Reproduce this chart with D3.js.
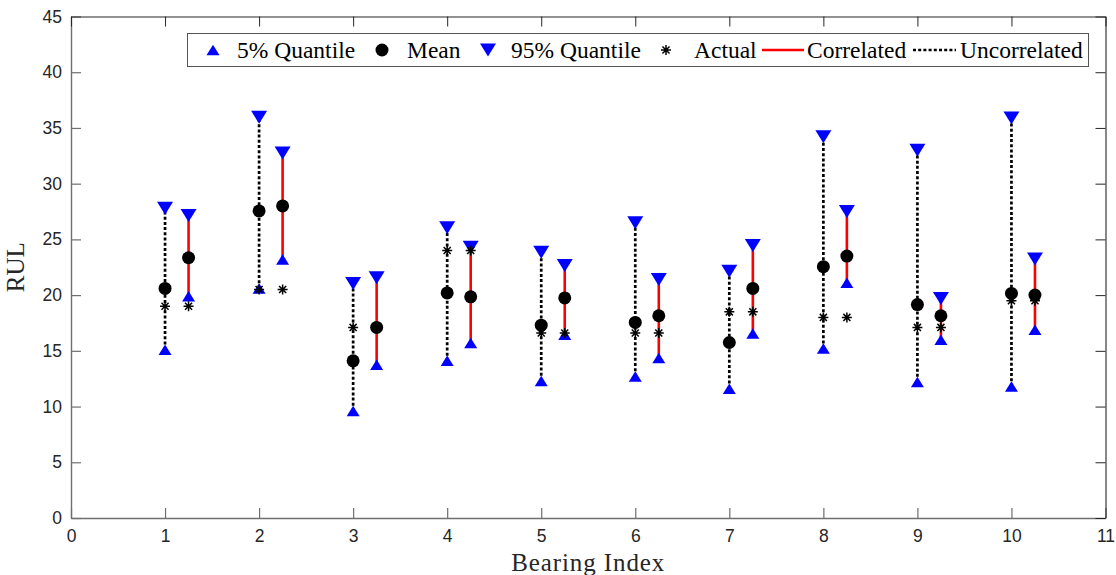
<!DOCTYPE html>
<html>
<head>
<meta charset="utf-8">
<script src="https://cdn.jsdelivr.net/npm/d3@7/dist/d3.min.js"></script>
<style>
  html, body { margin: 0; padding: 0; background: #fff; }
  svg { display: block; }
</style>
</head>
<body>
<svg id="chart" width="1116" height="575"></svg>
<script>
// Bearing indices and RUL predictions
const bearings = [1, 2, 3, 4, 5, 6, 7, 8, 9, 10];
const actualRUL = [19.0, 20.5, 17.1, 24.0, 16.6, 16.6, 18.5, 18.0, 17.1, 19.5];

// Uncorrelated model
const uncQ05  = [15.1, 20.6, 9.6, 14.1, 12.3, 12.7, 11.6, 15.2, 12.2, 11.8];
const uncMean = [20.6, 27.55, 14.1, 20.2, 17.3, 17.55, 15.75, 22.55, 19.15, 20.15];
const uncQ95  = [27.8, 35.95, 21.05, 26.05, 23.85, 26.5, 22.15, 34.2, 33.0, 35.9];

// Correlated model
const corQ05  = [19.9, 23.2, 13.75, 15.7, 16.45, 14.35, 16.55, 21.1, 16.0, 16.9];
const corMean = [23.35, 28.0, 17.1, 19.85, 19.75, 18.15, 20.6, 23.5, 18.15, 20.0];
const corQ95  = [27.15, 32.75, 21.55, 24.3, 22.65, 21.4, 24.45, 27.5, 19.7, 23.25];

const corOffset = 0.25;
const xTicks = d3.range(0, 12);
const yTicks = d3.range(0, 50, 5);

const svg = d3.select("#chart");
const plotLeft = 71, plotRight = 1105.5, plotTop = 16.5, plotBottom = 518;

const x = d3.scaleLinear().domain([0, 11]).range([plotLeft, plotRight]);
const y = d3.scaleLinear().domain([0, 45]).range([plotBottom, plotTop]);

const axisColor = "#262626";
const tickFont = "'Liberation Sans', Arial, sans-serif";
const serif = "'Liberation Serif', 'Times New Roman', serif";

// Frame axes: ticks point inward on all four sides
const gx = svg.append("g").attr("transform", `translate(0,${plotBottom})`)
  .call(d3.axisBottom(x).tickValues(xTicks).tickSizeInner(-10).tickSizeOuter(0).tickPadding(12));
const gy = svg.append("g").attr("transform", `translate(${plotLeft},0)`)
  .call(d3.axisLeft(y).tickValues(yTicks).tickSizeInner(-10).tickSizeOuter(0).tickPadding(9));
const gxt = svg.append("g").attr("transform", `translate(0,${plotTop})`)
  .call(d3.axisTop(x).tickValues(xTicks).tickSizeInner(-10).tickSizeOuter(0).tickFormat(""));
const gyr = svg.append("g").attr("transform", `translate(${plotRight},0)`)
  .call(d3.axisRight(y).tickValues(yTicks).tickSizeInner(-10).tickSizeOuter(0).tickFormat(""));

[gx, gy].forEach(g => {
  g.select(".domain").attr("stroke", "#6f6f6f").attr("stroke-width", 1.4);
  g.selectAll(".tick line").attr("stroke", "#6f6f6f").attr("stroke-width", 1.2);
  g.selectAll(".tick text").attr("fill", axisColor)
    .style("font-family", tickFont).style("font-size", "17.5px");
});
[gxt, gyr].forEach(g => {
  g.select(".domain").attr("stroke", axisColor).attr("stroke-width", 1.1);
  g.selectAll(".tick line").attr("stroke", axisColor).attr("stroke-width", 1);
});
gx.selectAll(".tick text").attr("dy", "0.71em");

// Axis labels
svg.append("text")
  .attr("x", (plotLeft + plotRight) / 2).attr("y", 571)
  .attr("text-anchor", "middle")
  .style("font-family", serif).style("font-size", "25px").style("letter-spacing", "0.9px")
  .attr("fill", axisColor)
  .text("Bearing Index");
svg.append("text")
  .attr("transform", `translate(24,${(plotTop + plotBottom) / 2}) rotate(-90)`)
  .attr("text-anchor", "middle")
  .style("font-family", serif).style("font-size", "25px")
  .attr("fill", axisColor)
  .text("RUL");

// Marker path builders
const triUp = (w, h) => `M0,${-h / 2}L${w / 2},${h / 2}L${-w / 2},${h / 2}Z`;
const triDown = (w, h) => `M0,${h / 2}L${w / 2},${-h / 2}L${-w / 2},${-h / 2}Z`;
const starPath = r => {
  const d = r * Math.SQRT1_2;
  return `M${-r},0L${r},0M0,${-r}L0,${r}M${-d},${-d}L${d},${d}M${-d},${d}L${d},${-d}`;
};

const blue = "#0000ff";
const red = "#ff0000";
const dotted = "3,2.2";

const plot = svg.append("g");

const uncData = bearings.map((b, i) => ({ xv: b, q05: uncQ05[i], mean: uncMean[i], q95: uncQ95[i], act: actualRUL[i] }));
const corData = bearings.map((b, i) => ({ xv: b + corOffset, q05: corQ05[i], mean: corMean[i], q95: corQ95[i], act: actualRUL[i] }));
const allData = uncData.concat(corData);

// Interval lines
plot.selectAll(".unc-line").data(uncData).join("line")
  .attr("x1", d => x(d.xv)).attr("x2", d => x(d.xv))
  .attr("y1", d => y(d.q05)).attr("y2", d => y(d.q95))
  .attr("stroke", "#000").attr("stroke-width", 2.7).attr("stroke-dasharray", dotted);
plot.selectAll(".cor-line").data(corData).join("line")
  .attr("x1", d => x(d.xv)).attr("x2", d => x(d.xv))
  .attr("y1", d => y(d.q05)).attr("y2", d => y(d.q95))
  .attr("stroke", red).attr("stroke-width", 2.6);

// 5% quantile markers
plot.selectAll(".q05").data(allData).join("path")
  .attr("transform", d => `translate(${x(d.xv)},${y(d.q05)})`)
  .attr("d", triUp(13, 10.5)).attr("fill", blue);

// Mean markers
plot.selectAll(".mean").data(allData).join("circle")
  .attr("cx", d => x(d.xv)).attr("cy", d => y(d.mean))
  .attr("r", 6.5).attr("fill", "#000");

// 95% quantile markers
plot.selectAll(".q95").data(allData).join("path")
  .attr("transform", d => `translate(${x(d.xv)},${y(d.q95)})`)
  .attr("d", triDown(16, 13)).attr("fill", blue);

// Actual RUL markers
plot.selectAll(".act").data(allData).join("path")
  .attr("transform", d => `translate(${x(d.xv)},${y(d.act)})`)
  .attr("d", starPath(5)).attr("stroke", "#000").attr("stroke-width", 1.5).attr("fill", "none");

// Legend
const legend = svg.append("g");
legend.append("rect")
  .attr("x", 187.5).attr("y", 33.5).attr("width", 901).attr("height", 33)
  .attr("fill", "#fff").attr("stroke", "#555").attr("stroke-width", 1);

const ly = 50;
const textY = 57.5;
const legendItems = [
  { kind: "q05", mx: 213, tx: 237, label: "5% Quantile" },
  { kind: "mean", mx: 382, tx: 407, label: "Mean" },
  { kind: "q95", mx: 488, tx: 511, label: "95% Quantile" },
  { kind: "act", mx: 666, tx: 694, label: "Actual" },
  { kind: "cor", mx: 762, tx: 807, label: "Correlated" },
  { kind: "unc", mx: 913, tx: 960, label: "Uncorrelated" }
];
legendItems.forEach(it => {
  if (it.kind === "q05") {
    legend.append("path").attr("transform", `translate(${it.mx},${ly})`).attr("d", triUp(13, 10.5)).attr("fill", blue);
  } else if (it.kind === "mean") {
    legend.append("circle").attr("cx", it.mx).attr("cy", ly).attr("r", 6.5).attr("fill", "#000");
  } else if (it.kind === "q95") {
    legend.append("path").attr("transform", `translate(${it.mx},${ly})`).attr("d", triDown(16, 13)).attr("fill", blue);
  } else if (it.kind === "act") {
    legend.append("path").attr("transform", `translate(${it.mx},${ly})`).attr("d", starPath(5))
      .attr("stroke", "#000").attr("stroke-width", 1.5).attr("fill", "none");
  } else if (it.kind === "cor") {
    legend.append("line").attr("x1", it.mx).attr("x2", it.mx + 42).attr("y1", ly).attr("y2", ly)
      .attr("stroke", red).attr("stroke-width", 2.6);
  } else {
    legend.append("line").attr("x1", it.mx).attr("x2", it.mx + 43).attr("y1", ly).attr("y2", ly)
      .attr("stroke", "#000").attr("stroke-width", 2.7).attr("stroke-dasharray", dotted);
  }
  legend.append("text").attr("x", it.tx).attr("y", textY)
    .style("font-family", serif).style("font-size", "23.5px").attr("fill", "#000")
    .text(it.label);
});
</script>
</body>
</html>
